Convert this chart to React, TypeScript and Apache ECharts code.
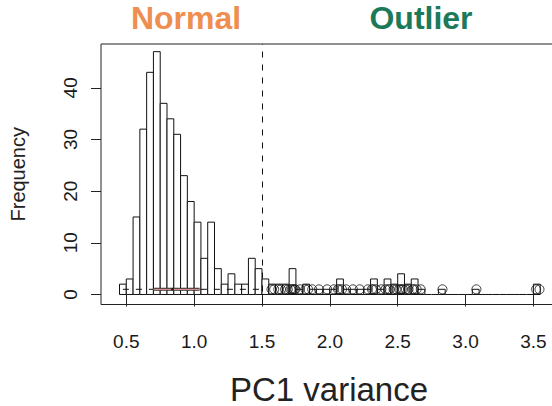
import React, { useEffect, useRef } from "react";
import * as echarts from "echarts";

// Histogram bins (width 0.05 starting at 0.45) and their counts
const binStart = 0.45;
const binWidth = 0.05;
const counts = [
  2, 3, 15, 32, 43, 47, 37, 34, 31, 23, 18, 14, 7, 14, 5, 2, 4, 2, 2, 7, 5, 3,
  2, 2, 2, 5, 1, 2, 1, 1, 1, 1, 3, 1, 1, 1, 1, 3, 1, 3, 2, 4, 2, 3, 1,
  0, 0, 1, 0, 0, 0, 0, 1,
  0, 0, 0, 0, 0, 0, 0, 0,
  2,
];

// Outlier observations plotted at Frequency = 1
const outliers = [
  1.57, 1.59, 1.62, 1.64, 1.67, 1.69, 1.71, 1.72, 1.73, 1.74, 1.745, 1.78,
  1.82, 1.84, 1.87, 1.92, 1.98, 2.03, 2.06, 2.07, 2.09, 2.12, 2.17, 2.22,
  2.28, 2.31, 2.32, 2.34, 2.38, 2.41, 2.43, 2.44, 2.47, 2.49, 2.51, 2.52,
  2.53, 2.54, 2.56, 2.58, 2.61, 2.62, 2.64, 2.67, 2.83, 3.08, 3.52, 3.545,
];

const normalRange = [0.475, 1.525];
const intervalRange = [0.7, 1.04];
const centerValue = 0.84;
const threshold = 1.5;
const xTicks = [0.5, 1.0, 1.5, 2.0, 2.5, 3.0, 3.5];
const yTicks = [0, 10, 20, 30, 40];

const FONT = "'Liberation Sans', Arial, Helvetica, sans-serif";

export default function App() {
  const ref = useRef<HTMLDivElement>(null);
  useEffect(() => {
    if (!ref.current) return;
    const chart = echarts.init(ref.current, null, { renderer: "svg" });
    const bins = counts.map((c, i) => {
      const x0 = +(binStart + i * binWidth).toFixed(3);
      return [x0, +(x0 + binWidth).toFixed(3), c];
    });
    const option: any = {
      animation: false,
      backgroundColor: "#fff",
      grid: {
        left: 101,
        top: 44,
        width: 456,
        height: 260.5,
        show: true,
        borderColor: "#222",
        borderWidth: 1,
        backgroundColor: "transparent",
        containLabel: false,
        outerBoundsMode: "none",
      },
      xAxis: {
        type: "value",
        min: 0.3136,
        max: 3.674,
        name: "PC1 variance",
        nameLocation: "middle",
        nameGap: 68,
        nameTextStyle: { fontFamily: FONT, fontSize: 33, color: "#222" },
        axisLine: { show: false },
        splitLine: { show: false },
        axisTick: {
          show: true,
          length: 12,
          customValues: xTicks,
          lineStyle: { color: "#222", width: 1 },
        },
        axisLabel: {
          customValues: xTicks,
          margin: 27,
          fontFamily: FONT,
          fontSize: 19,
          color: "#1a1a1a",
          formatter: (v: number) => v.toFixed(1),
        },
      },
      yAxis: {
        type: "value",
        min: -1.94,
        max: 48.48,
        name: "Frequency",
        nameLocation: "middle",
        nameGap: 73,
        nameTextStyle: { fontFamily: FONT, fontSize: 20, color: "#222" },
        axisLine: { show: false },
        splitLine: { show: false },
        axisTick: {
          show: true,
          length: 10,
          customValues: yTicks,
          lineStyle: { color: "#222", width: 1 },
        },
        axisLabel: {
          customValues: yTicks,
          rotate: 90,
          margin: 21,
          fontFamily: FONT,
          fontSize: 19,
          color: "#1a1a1a",
        },
      },
      graphic: [
        {
          type: "text",
          x: 186,
          y: 18,
          style: {
            text: "Normal",
            font: `bold 32px ${FONT}`,
            fill: "#EE8E50",
            align: "center",
            verticalAlign: "middle",
          },
        },
        {
          type: "text",
          x: 421,
          y: 18,
          style: {
            text: "Outlier",
            font: `bold 32px ${FONT}`,
            fill: "#1C7A5B",
            align: "center",
            verticalAlign: "middle",
          },
        },
      ],
      series: [
        {
          type: "custom",
          data: bins,
          silent: true,
          renderItem: (params: any, api: any) => {
            const x0 = api.value(0);
            const x1 = api.value(1);
            const c = api.value(2);
            const p0 = api.coord([x0, 0]);
            const p1 = api.coord([x1, c]);
            if (c === 0) {
              return {
                type: "line",
                shape: { x1: p0[0], y1: p0[1], x2: p1[0], y2: p0[1] },
                style: { stroke: "#111", lineWidth: 1 },
              };
            }
            return {
              type: "rect",
              shape: {
                x: p0[0],
                y: p1[1],
                width: p1[0] - p0[0],
                height: p0[1] - p1[1],
              },
              style: { fill: "#fff", stroke: "#111", lineWidth: 1 },
            };
          },
          markLine: {
            silent: true,
            symbol: "none",
            label: { show: false },
            lineStyle: { type: [6, 7], color: "#111", width: 1 },
            data: [{ xAxis: threshold }],
          },
          z: 1,
        },
        {
          type: "line",
          data: normalRange.map((x) => [x, 1]),
          symbol: "none",
          silent: true,
          lineStyle: { color: "#111", width: 1, type: [6, 7] },
          z: 2,
        },
        {
          type: "line",
          data: intervalRange.map((x) => [x, 1]),
          symbol: "none",
          silent: true,
          lineStyle: { color: "#333", width: 3, type: "solid" },
          z: 3,
        },
        {
          type: "line",
          data: intervalRange.map((x) => [x, 1]),
          symbol: "none",
          silent: true,
          lineStyle: { color: "#d48a8a", width: 1.3, type: "solid" },
          z: 4,
        },
        {
          type: "scatter",
          data: [[centerValue, 1]],
          symbol: "circle",
          symbolSize: 3,
          silent: true,
          itemStyle: { color: "#111" },
          z: 5,
        },
        {
          type: "scatter",
          data: outliers.map((x) => [x, 1]),
          symbol: "circle",
          symbolSize: 9,
          silent: true,
          itemStyle: { color: "transparent", borderColor: "#111", borderWidth: 1 },
          z: 6,
        },
      ],
    };
    chart.setOption(option);
    return () => chart.dispose();
  }, []);
  return (
    <div
      ref={ref}
      style={{ position: "fixed", left: 0, top: 0, width: 552, height: 406, background: "#fff" }}
    />
  );
}
